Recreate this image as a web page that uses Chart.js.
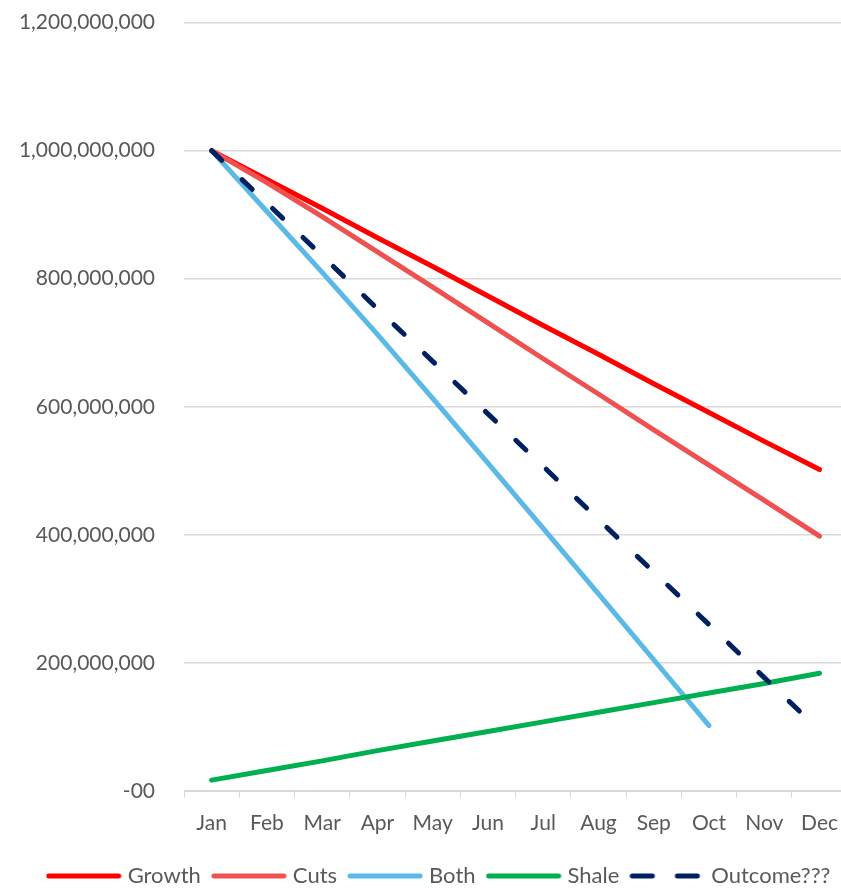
<!DOCTYPE html>
<html>
<head>
<meta charset="utf-8">
<script src="https://cdn.jsdelivr.net/npm/chart.js@4"></script>
<style>
  html, body { margin: 0; padding: 0; background: #fff; overflow: hidden; }
  #wrap { width: 841px; height: 888px; position: relative; overflow: hidden; }
  #inner { width: 851px; height: 907px; position: absolute; left: 0; top: -19px; }
</style>
</head>
<body>
<div id="wrap"><div id="inner"><canvas id="oilChart"></canvas></div></div>
<script>
// Monthly values
const months = ['Jan', 'Feb', 'Mar', 'Apr', 'May', 'Jun', 'Jul', 'Aug', 'Sep', 'Oct', 'Nov', 'Dec'];
const growth = [1000, 955, 910, 864, 819, 773, 727, 682, 636, 591, 546, 502].map(v => v * 1e6);
const cuts = [1000, 950, 897, 842, 787, 731, 675, 620, 564, 509, 454, 398].map(v => v * 1e6);
const both = [1000, 905, 810, 713, 613, 512, 410, 308, 205, 102, null, null].map(v => v === null ? null : v * 1e6);
const shale = [17, 32, 47, 63, 78, 93, 108, 123, 138, 153, 168, 184].map(v => v * 1e6);
const outcome = [1000, 918, 836, 753, 671, 589, 507, 424, 342, 260, 177, 95].map(v => v * 1e6);

const textColor = '#595959';
const gridColor = '#d9d9d9';
const font = { family: 'Lato, "Open Sans", sans-serif', size: 21 };
const legendFont = { family: 'Lato, "Open Sans", sans-serif', size: 22 };

// small line picture used as the legend sample
function legendSample(color, dash) {
    const c = document.createElement('canvas');
    c.width = 76;
    c.height = 8;
    const g = c.getContext('2d');
    g.strokeStyle = color;
    g.lineWidth = 5;
    g.lineCap = 'round';
    g.setLineDash(dash || []);
    g.beginPath();
    g.moveTo(3, 4);
    g.lineTo(73, 4);
    g.stroke();
    return c;
}

function lineSet(label, data, color, order, dash, sampleDash) {
    return {
        label: label,
        data: data,
        borderColor: color,
        backgroundColor: color,
        borderWidth: 5,
        borderCapStyle: 'round',
        borderJoinStyle: 'round',
        borderDash: dash || [],
        pointRadius: 0,
        pointStyle: legendSample(color, sampleDash),
        tension: 0,
        order: order
    };
}

// nudge the legend a bit right, like the original
const legendShift = {
    id: 'legendShift',
    afterLayout(chart) {
        chart.legend.left += 12;
        chart.legend.right += 12;
    }
};

const ctx = document.getElementById('oilChart').getContext('2d');
new Chart(ctx, {
    type: 'line',
    data: {
        labels: months,
        datasets: [
            lineSet('Growth', growth, '#ff0000', 5),
            lineSet('Cuts', cuts, '#ef5050', 4),
            lineSet('Both', both, '#5bb9e8', 3),
            lineSet('Shale', shale, '#00b050', 2),
            lineSet('Outcome???', outcome, '#002060', 1, [14, 28], [20, 25])
        ]
    },
    plugins: [legendShift],
    options: {
        responsive: true,
        maintainAspectRatio: false,
        animation: false,
        layout: { padding: { top: -8, right: -6, left: 0, bottom: -9 } },
        plugins: {
            tooltip: { enabled: false },
            legend: {
                position: 'bottom',
                labels: {
                    usePointStyle: true,
                    pointStyleWidth: 66,
                    boxHeight: 21,
                    padding: 15,
                    color: textColor,
                    font: legendFont,
                    sort: (a, b) => a.datasetIndex - b.datasetIndex
                }
            }
        },
        scales: {
            x: {
                offset: true,
                afterFit: s => { s.height = 59; },
                grid: {
                    offset: true,
                    drawOnChartArea: false,
                    drawTicks: true,
                    tickLength: 7,
                    color: gridColor
                },
                border: { color: gridColor },
                ticks: { color: textColor, font: font, padding: 13, maxRotation: 0, autoSkip: false }
            },
            y: {
                min: 0,
                max: 1200000000,
                afterFit: s => { s.width = 184; },
                grid: { color: gridColor, drawTicks: false, lineWidth: 1.5 },
                border: { display: false },
                ticks: {
                    stepSize: 200000000,
                    color: textColor,
                    font: font,
                    padding: 29,
                    callback: v => v === 0 ? '-00' : v.toLocaleString('en-US')
                }
            }
        }
    }
});
</script>
</body>
</html>
